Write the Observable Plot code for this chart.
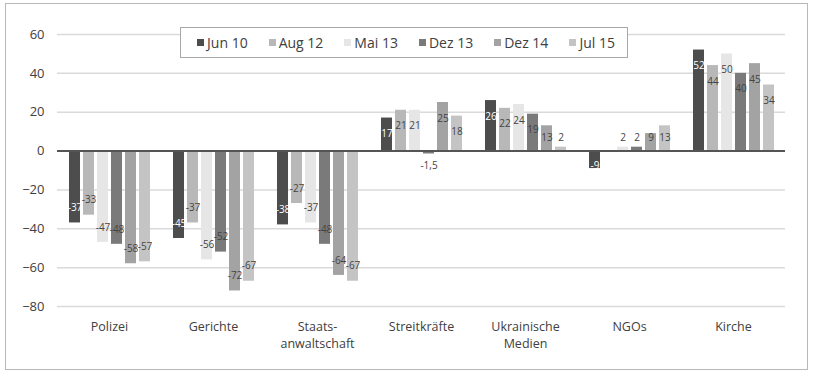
<!DOCTYPE html>
<html>
<head>
<meta charset="utf-8">
<script src="https://cdn.jsdelivr.net/npm/d3@7"></script>
<script src="https://cdn.jsdelivr.net/npm/@observablehq/plot@0.6"></script>
<style>
  body { margin: 0; background: #fff; }
  #wrap { position: relative; width: 813px; height: 375px; font-family: "Open Sans", sans-serif; color: #404040; }
  #frame { position: absolute; left: 5px; top: 3px; width: 803px; height: 367px; border: 1px solid #b8b8b8; box-sizing: border-box; pointer-events: none; }
  #legend { position: absolute; left: 180px; top: 27px; width: 448px; height: 31px; border: 1px solid #a8a8a8; background: #fff; box-sizing: border-box;
            display: flex; align-items: center; justify-content: center; gap: 21px; font-size: 14px; padding-left: 4px; }
  #legend .item { display: flex; align-items: center; gap: 3px; white-space: nowrap; }
  #legend .sw { width: 7px; height: 7px; display: inline-block; }
  #chart { position: absolute; left: 0; top: 0; }
</style>
</head>
<body>
<div id="wrap">
  <div id="chart"></div>
  <div id="legend"></div>
  <div id="frame"></div>
</div>
<script>
// Institutions surveyed (line breaks as shown under the axis)
const categories = ["Polizei", "Gerichte", "Staats-\nanwaltschaft", "Streitkräfte", "Ukrainische\nMedien", "NGOs", "Kirche"];
// Survey waves
const series = ["Jun 10", "Aug 12", "Mai 13", "Dez 13", "Dez 14", "Jul 15"];
// Net trust balance per institution, one array per wave (null = no value)
const jun10 = [-37, -45, -38, 17, 26, -9, 52];
const aug12 = [-33, -37, -27, 21, 22, null, 44];
const mai13 = [-47, -56, -37, 21, 24, 2, 50];
const dez13 = [-48, -52, -48, -1.5, 19, 2, 40];
const dez14 = [-58, -72, -64, 25, 13, 9, 45];
const jul15 = [-57, -67, -67, 18, 2, 13, 34];
const yTicks = [-80, -60, -40, -20, 0, 20, 40, 60];
const colors = ["#4d4d4d", "#b8b8b8", "#e6e6e6", "#7a7a7a", "#a3a3a3", "#c4c4c4"];

const waves = [jun10, aug12, mai13, dez13, dez14, jul15];
const rows = [];
categories.forEach((cat, i) => {
  series.forEach((s, j) => {
    const v = waves[j][i];
    if (v != null) rows.push({cat, series: s, value: v});
  });
});

// value labels sit just inside the bar end, kept clear of the zero line
const labelY = v => v >= 0 ? Math.max(v - 8.2, 7) : Math.min(v + 7.7, -7.4);
const fmt = v => String(v).replace(".", ",");

const chart = Plot.plot({
  width: 813,
  height: 375,
  marginLeft: 55,
  marginRight: 27,
  marginTop: 34,
  marginBottom: 69,
  style: {fontFamily: "Open Sans, sans-serif", fontSize: "12px", color: "#404040", background: "transparent"},
  fx: {domain: categories, padding: 0, label: null},
  x: {domain: series, paddingInner: 0.24, paddingOuter: 0.74, axis: null},
  y: {domain: [-80, 60], label: null},
  color: {domain: series, range: colors},
  marks: [
    Plot.ruleY(yTicks.filter(t => t !== 0), {stroke: "#dadada", strokeWidth: 1.5}),
    Plot.barY(rows, {fx: "cat", x: "series", y: "value", fill: "series"}),
    Plot.ruleY([0], {stroke: "#555", strokeWidth: 2}),
    Plot.text(rows, {
      fx: "cat", x: "series", y: d => labelY(d.value), text: d => fmt(d.value),
      fill: d => d.series === "Jun 10" ? "#fff" : "#444", fontSize: 10
    }),
    Plot.axisY({ticks: yTicks, tickSize: 0, tickPadding: 13, fontSize: 13, label: null, fill: "#404040"}),
    Plot.axisFx({anchor: "bottom", tickSize: 0, tickPadding: 12, fontSize: 12.5, lineHeight: 1.4, label: null, fill: "#404040"})
  ]
});
document.getElementById("chart").appendChild(chart);

// legend
const legend = document.getElementById("legend");
series.forEach((s, i) => {
  const item = document.createElement("span");
  item.className = "item";
  const sw = document.createElement("span");
  sw.className = "sw";
  sw.style.background = colors[i];
  item.appendChild(sw);
  item.appendChild(document.createTextNode(s));
  legend.appendChild(item);
});
</script>
</body>
</html>
